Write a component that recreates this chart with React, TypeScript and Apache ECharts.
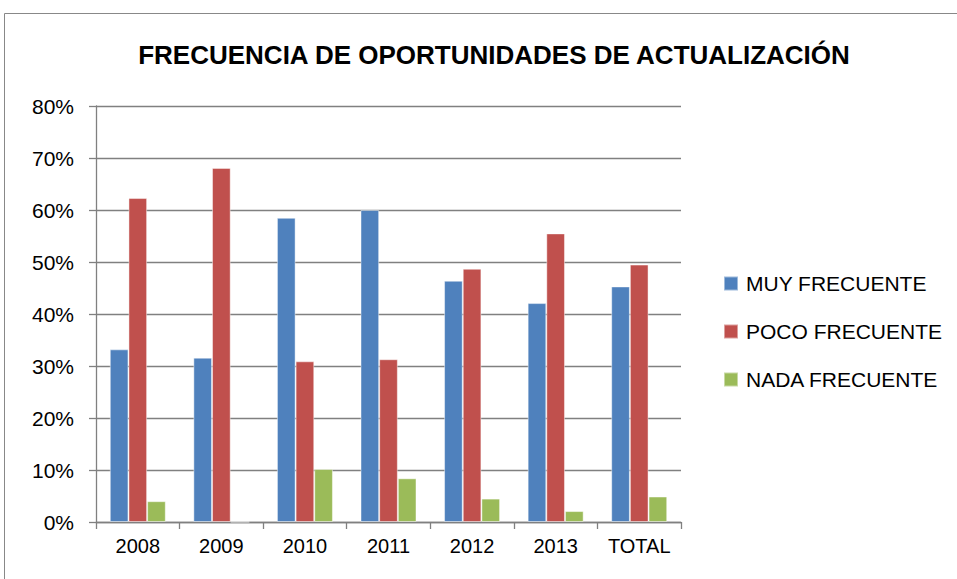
import React, { useEffect, useRef } from "react";
import * as echarts from "echarts";

const categories = ["2008", "2009", "2010", "2011", "2012", "2013", "TOTAL"];
const seriesNames = ["MUY FRECUENTE", "POCO FRECUENTE", "NADA FRECUENTE"];
const muyFrecuente = [33.2, 31.6, 58.5, 60.0, 46.4, 42.1, 45.3];
const pocoFrecuente = [62.3, 68.1, 30.9, 31.3, 48.7, 55.5, 49.5];
const nadaFrecuente = [4.0, 0, 10.2, 8.4, 4.5, 2.1, 4.9];
const colors = ["#4F81BD", "#C0504D", "#9BBB59"];
const titleText = "FRECUENCIA DE OPORTUNIDADES DE ACTUALIZACIÓN";

export default function App() {
  const ref = useRef<HTMLDivElement>(null);
  useEffect(() => {
    if (!ref.current) return;
    const chart = echarts.init(ref.current, undefined, { renderer: "svg" });
    const font = "'Liberation Sans', Arial, sans-serif";
    const dataSets = [muyFrecuente, pocoFrecuente, nadaFrecuente];
    chart.setOption({
      animation: false,
      backgroundColor: "#ffffff",
      title: {
        text: titleText,
        left: 489,
        textAlign: "center",
        top: 37,
        textStyle: { fontFamily: font, fontSize: 26, fontWeight: "bold", color: "#000" },
      },
      graphic: [
        {
          type: "rect",
          shape: { x: 4.5, y: 13.5, width: 1000, height: 700 },
          style: { fill: "none", stroke: "#888888", lineWidth: 1 },
          silent: true,
        },
      ],
      legend: {
        orient: "vertical",
        left: 718,
        top: 268,
        itemWidth: 14,
        itemHeight: 14,
        itemGap: 27,
        icon: "rect",
        data: seriesNames,
        textStyle: { fontFamily: font, fontSize: 21, color: "#000", lineHeight: 21, padding: [0, 0, 0, 3] },
      },
      grid: { left: 96, right: 276, top: 106, bottom: 57, containLabel: false },
      xAxis: {
        type: "category",
        data: categories,
        axisLine: { show: true, lineStyle: { color: "#808080", width: 1.3 } },
        axisTick: { show: true, length: 7, lineStyle: { color: "#808080", width: 1.3 } },
        axisLabel: { fontFamily: font, fontSize: 20, color: "#000", margin: 14 },
      },
      yAxis: {
        type: "value",
        min: 0,
        max: 80,
        interval: 10,
        axisLine: { show: true, lineStyle: { color: "#808080", width: 1.3 } },
        axisTick: { show: true, length: 7, lineStyle: { color: "#808080", width: 1.3 } },
        splitLine: { show: true, lineStyle: { color: "#808080", width: 1.3 } },
        axisLabel: { fontFamily: font, fontSize: 21, color: "#000", margin: 22, formatter: "{value}%" },
      },
      series: dataSets.map((d, i) => ({
        name: seriesNames[i],
        type: "bar",
        data: d,
        barGap: "0%",
        barCategoryGap: "33%",
        itemStyle: { color: colors[i], borderColor: "rgba(255,255,255,0.45)", borderWidth: 1 },
      })),
    });
    return () => chart.dispose();
  }, []);
  return <div ref={ref} style={{ position: "fixed", left: 0, top: 0, width: 957, height: 579 }} />;
}
